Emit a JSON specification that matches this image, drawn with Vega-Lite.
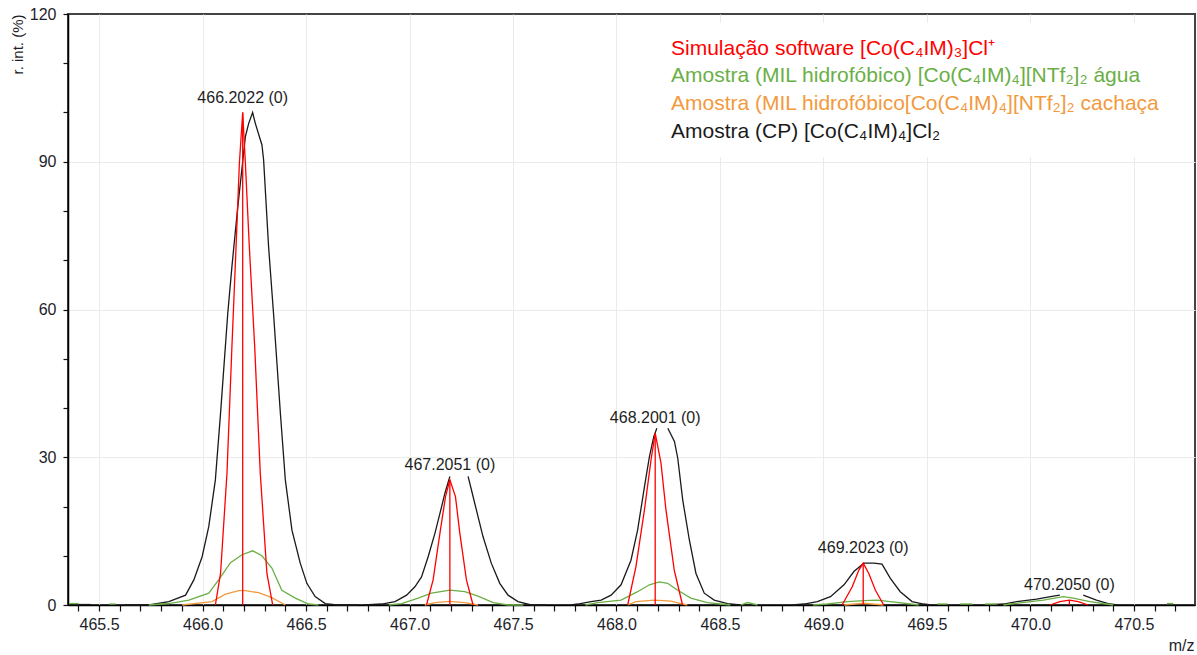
{
 "$schema": "https://vega.github.io/schema/vega-lite/v6.json",
 "width": 1127,
 "height": 591,
 "autosize": {"type": "none"},
 "padding": {"left": 68, "top": 14, "right": 2, "bottom": 50},
 "background": "white",
 "config": {"font": "Liberation Sans", "view": {"stroke": "#444444", "strokeWidth": 2}},
 "datasets": {
  "curves": [
   {"s":"cp","g":"cp0","x":465.36,"y":0.1},{"s":"cp","g":"cp0","x":465.46,"y":0.1},
   {"s":"cp","g":"cp1","x":465.62,"y":0},{"s":"cp","g":"cp1","x":465.741,"y":0},{"s":"cp","g":"cp1","x":465.837,"y":0.7},{"s":"cp","g":"cp1","x":465.918,"y":2},{"s":"cp","g":"cp1","x":465.958,"y":5.1},{"s":"cp","g":"cp1","x":465.998,"y":9.8},{"s":"cp","g":"cp1","x":466.03,"y":15.9},{"s":"cp","g":"cp1","x":466.062,"y":25.4},{"s":"cp","g":"cp1","x":466.087,"y":38.9},{"s":"cp","g":"cp1","x":466.122,"y":59.3},{"s":"cp","g":"cp1","x":466.142,"y":68.7},{"s":"cp","g":"cp1","x":466.167,"y":79.5},{"s":"cp","g":"cp1","x":466.207,"y":95.1},{"s":"cp","g":"cp1","x":466.223,"y":97.8},{"s":"cp","g":"cp1","x":466.242,"y":100},{"s":"cp","g":"cp1","x":466.255,"y":97.8},{"s":"cp","g":"cp1","x":466.287,"y":93.4},{"s":"cp","g":"cp1","x":466.295,"y":90.4},{"s":"cp","g":"cp1","x":466.319,"y":72.8},{"s":"cp","g":"cp1","x":466.343,"y":59.2},{"s":"cp","g":"cp1","x":466.376,"y":39},{"s":"cp","g":"cp1","x":466.4,"y":25.4},{"s":"cp","g":"cp1","x":466.432,"y":15.2},{"s":"cp","g":"cp1","x":466.472,"y":8.5},{"s":"cp","g":"cp1","x":466.504,"y":4.4},{"s":"cp","g":"cp1","x":466.544,"y":1.7},{"s":"cp","g":"cp1","x":466.593,"y":0.3},{"s":"cp","g":"cp1","x":466.65,"y":0},{"s":"cp","g":"cp1","x":466.75,"y":0},
   {"s":"cp","g":"cp2a","x":466.78,"y":0},{"s":"cp","g":"cp2a","x":466.865,"y":0.2},{"s":"cp","g":"cp2a","x":466.93,"y":0.7},{"s":"cp","g":"cp2a","x":466.986,"y":2},{"s":"cp","g":"cp2a","x":467.026,"y":3.7},{"s":"cp","g":"cp2a","x":467.058,"y":5.7},{"s":"cp","g":"cp2a","x":467.09,"y":9.8},{"s":"cp","g":"cp2a","x":467.123,"y":14.6},{"s":"cp","g":"cp2a","x":467.147,"y":18.6},{"s":"cp","g":"cp2a","x":467.171,"y":22.7},{"s":"cp","g":"cp2a","x":467.195,"y":26.1},
   {"s":"cp","g":"cp2b","x":467.283,"y":26.1},{"s":"cp","g":"cp2b","x":467.299,"y":23.4},{"s":"cp","g":"cp2b","x":467.323,"y":19.3},{"s":"cp","g":"cp2b","x":467.355,"y":13.9},{"s":"cp","g":"cp2b","x":467.395,"y":8.5},{"s":"cp","g":"cp2b","x":467.436,"y":4.4},{"s":"cp","g":"cp2b","x":467.476,"y":2},{"s":"cp","g":"cp2b","x":467.524,"y":0.7},{"s":"cp","g":"cp2b","x":467.588,"y":0},{"s":"cp","g":"cp2b","x":467.66,"y":0},
   {"s":"cp","g":"cp3a","x":467.78,"y":0},{"s":"cp","g":"cp3a","x":467.813,"y":0.2},{"s":"cp","g":"cp3a","x":467.877,"y":0.7},{"s":"cp","g":"cp3a","x":467.926,"y":1},{"s":"cp","g":"cp3a","x":467.974,"y":2},{"s":"cp","g":"cp3a","x":468.022,"y":4.1},{"s":"cp","g":"cp3a","x":468.07,"y":9.1},{"s":"cp","g":"cp3a","x":468.102,"y":15.2},{"s":"cp","g":"cp3a","x":468.135,"y":24},{"s":"cp","g":"cp3a","x":468.159,"y":30.1},{"s":"cp","g":"cp3a","x":468.18,"y":34.2},{"s":"cp","g":"cp3a","x":468.195,"y":35.9},
   {"s":"cp","g":"cp3b","x":468.248,"y":35.9},{"s":"cp","g":"cp3b","x":468.28,"y":33.2},{"s":"cp","g":"cp3b","x":468.296,"y":29.8},{"s":"cp","g":"cp3b","x":468.32,"y":21.3},{"s":"cp","g":"cp3b","x":468.352,"y":13.2},{"s":"cp","g":"cp3b","x":468.384,"y":6.4},{"s":"cp","g":"cp3b","x":468.424,"y":2.4},{"s":"cp","g":"cp3b","x":468.472,"y":1},{"s":"cp","g":"cp3b","x":468.536,"y":0.3},{"s":"cp","g":"cp3b","x":468.6,"y":0},{"s":"cp","g":"cp3b","x":468.66,"y":0},
   {"s":"cp","g":"cp4","x":468.85,"y":0},{"s":"cp","g":"cp4","x":468.906,"y":0.2},{"s":"cp","g":"cp4","x":468.97,"y":0.7},{"s":"cp","g":"cp4","x":469.034,"y":1.7},{"s":"cp","g":"cp4","x":469.099,"y":4.1},{"s":"cp","g":"cp4","x":469.147,"y":6.8},{"s":"cp","g":"cp4","x":469.195,"y":8.5},{"s":"cp","g":"cp4","x":469.243,"y":8.5},{"s":"cp","g":"cp4","x":469.283,"y":8.3},{"s":"cp","g":"cp4","x":469.323,"y":5.4},{"s":"cp","g":"cp4","x":469.371,"y":2.7},{"s":"cp","g":"cp4","x":469.428,"y":0.7},{"s":"cp","g":"cp4","x":469.484,"y":0.2},{"s":"cp","g":"cp4","x":469.52,"y":0},
   {"s":"cp","g":"cp5a","x":469.8,"y":0},{"s":"cp","g":"cp5a","x":469.87,"y":0.2},{"s":"cp","g":"cp5a","x":469.934,"y":0.7},{"s":"cp","g":"cp5a","x":470.03,"y":1.2},{"s":"cp","g":"cp5a","x":470.111,"y":1.8},{"s":"cp","g":"cp5a","x":470.142,"y":2},
   {"s":"cp","g":"cp5b","x":470.255,"y":2},{"s":"cp","g":"cp5b","x":470.319,"y":1},{"s":"cp","g":"cp5b","x":470.384,"y":0.2},{"s":"cp","g":"cp5b","x":470.42,"y":0},
   {"s":"agua","g":"ag0","x":465.355,"y":0.3},{"s":"agua","g":"ag0","x":465.4,"y":0.3},
   {"s":"agua","g":"ag0b","x":465.55,"y":0.2},{"s":"agua","g":"ag0b","x":465.58,"y":0.2},
   {"s":"agua","g":"ag1","x":465.741,"y":0},{"s":"agua","g":"ag1","x":465.837,"y":0.3},{"s":"agua","g":"ag1","x":465.934,"y":1},{"s":"agua","g":"ag1","x":466.03,"y":2.4},{"s":"agua","g":"ag1","x":466.078,"y":5.1},{"s":"agua","g":"ag1","x":466.135,"y":8.6},{"s":"agua","g":"ag1","x":466.191,"y":10.2},{"s":"agua","g":"ag1","x":466.242,"y":11},{"s":"agua","g":"ag1","x":466.287,"y":10},{"s":"agua","g":"ag1","x":466.335,"y":7.5},{"s":"agua","g":"ag1","x":466.383,"y":3},{"s":"agua","g":"ag1","x":466.448,"y":1.4},{"s":"agua","g":"ag1","x":466.512,"y":0.2},{"s":"agua","g":"ag1","x":466.56,"y":0},
   {"s":"agua","g":"ag2","x":466.9,"y":0},{"s":"agua","g":"ag2","x":466.962,"y":0.3},{"s":"agua","g":"ag2","x":467.042,"y":1.4},{"s":"agua","g":"ag2","x":467.106,"y":2.4},{"s":"agua","g":"ag2","x":467.195,"y":3},{"s":"agua","g":"ag2","x":467.267,"y":2.7},{"s":"agua","g":"ag2","x":467.331,"y":1.8},{"s":"agua","g":"ag2","x":467.404,"y":0.5},{"s":"agua","g":"ag2","x":467.476,"y":0},{"s":"agua","g":"ag2","x":467.55,"y":0},
   {"s":"agua","g":"ag3","x":467.85,"y":0},{"s":"agua","g":"ag3","x":467.91,"y":0.5},{"s":"agua","g":"ag3","x":468.022,"y":1},{"s":"agua","g":"ag3","x":468.102,"y":2.7},{"s":"agua","g":"ag3","x":468.159,"y":4.1},{"s":"agua","g":"ag3","x":468.207,"y":4.7},{"s":"agua","g":"ag3","x":468.247,"y":4.4},{"s":"agua","g":"ag3","x":468.296,"y":3},{"s":"agua","g":"ag3","x":468.359,"y":1.4},{"s":"agua","g":"ag3","x":468.439,"y":0.5},{"s":"agua","g":"ag3","x":468.504,"y":0.2},{"s":"agua","g":"ag3","x":468.55,"y":0},
   {"s":"agua","g":"ag3b","x":468.6,"y":0},{"s":"agua","g":"ag3b","x":468.633,"y":0.5},{"s":"agua","g":"ag3b","x":468.681,"y":0},
   {"s":"agua","g":"ag4","x":468.95,"y":0},{"s":"agua","g":"ag4","x":469.018,"y":0.2},{"s":"agua","g":"ag4","x":469.114,"y":0.7},{"s":"agua","g":"ag4","x":469.195,"y":0.9},{"s":"agua","g":"ag4","x":469.259,"y":1},{"s":"agua","g":"ag4","x":469.323,"y":0.7},{"s":"agua","g":"ag4","x":469.42,"y":0.2},{"s":"agua","g":"ag4","x":469.46,"y":0},
   {"s":"agua","g":"ag4b","x":469.55,"y":0.2},{"s":"agua","g":"ag4b","x":469.6,"y":0.2},
   {"s":"agua","g":"ag4c","x":469.66,"y":0.2},{"s":"agua","g":"ag4c","x":469.72,"y":0.2},
   {"s":"agua","g":"ag4d","x":469.78,"y":0.2},{"s":"agua","g":"ag4d","x":469.84,"y":0.2},
   {"s":"agua","g":"ag5","x":469.87,"y":0},{"s":"agua","g":"ag5","x":469.902,"y":0.2},{"s":"agua","g":"ag5","x":470.063,"y":1},{"s":"agua","g":"ag5","x":470.159,"y":1.7},{"s":"agua","g":"ag5","x":470.207,"y":1.4},{"s":"agua","g":"ag5","x":470.287,"y":0.7},{"s":"agua","g":"ag5","x":470.367,"y":0.2},{"s":"agua","g":"ag5","x":470.4,"y":0},
   {"s":"agua","g":"ag6","x":470.66,"y":0.3},{"s":"agua","g":"ag6","x":470.69,"y":0.3},
   {"s":"cach","g":"ca1","x":465.901,"y":0},{"s":"cach","g":"ca1","x":466.046,"y":0.7},{"s":"cach","g":"ca1","x":466.111,"y":2.2},{"s":"cach","g":"ca1","x":466.175,"y":2.9},{"s":"cach","g":"ca1","x":466.207,"y":2.9},{"s":"cach","g":"ca1","x":466.271,"y":2.5},{"s":"cach","g":"ca1","x":466.335,"y":1.5},{"s":"cach","g":"ca1","x":466.4,"y":0},
   {"s":"cach","g":"ca2","x":467.074,"y":0},{"s":"cach","g":"ca2","x":467.123,"y":0.5},{"s":"cach","g":"ca2","x":467.195,"y":0.75},{"s":"cach","g":"ca2","x":467.267,"y":0.5},{"s":"cach","g":"ca2","x":467.331,"y":0},
   {"s":"cach","g":"ca3","x":468.054,"y":0},{"s":"cach","g":"ca3","x":468.094,"y":0.7},{"s":"cach","g":"ca3","x":468.183,"y":1},{"s":"cach","g":"ca3","x":468.263,"y":0.8},{"s":"cach","g":"ca3","x":468.311,"y":0.3},{"s":"cach","g":"ca3","x":468.342,"y":0},
   {"s":"cach","g":"ca4","x":469.1,"y":0},{"s":"cach","g":"ca4","x":469.192,"y":0.35},{"s":"cach","g":"ca4","x":469.29,"y":0},
   {"s":"sim","g":"si1","x":466.062,"y":0},{"s":"sim","g":"si1","x":466.087,"y":6.4},{"s":"sim","g":"si1","x":466.118,"y":26.7},{"s":"sim","g":"si1","x":466.142,"y":52.5},{"s":"sim","g":"si1","x":466.162,"y":72.8},{"s":"sim","g":"si1","x":466.178,"y":89.7},{"s":"sim","g":"si1","x":466.194,"y":100},{"s":"sim","g":"si1","x":466.207,"y":89.7},{"s":"sim","g":"si1","x":466.226,"y":72.8},{"s":"sim","g":"si1","x":466.252,"y":52.5},{"s":"sim","g":"si1","x":466.279,"y":26.7},{"s":"sim","g":"si1","x":466.311,"y":6.4},{"s":"sim","g":"si1","x":466.339,"y":0},
   {"s":"sim","g":"si2","x":467.082,"y":0},{"s":"sim","g":"si2","x":467.114,"y":5.1},{"s":"sim","g":"si2","x":467.147,"y":14.6},{"s":"sim","g":"si2","x":467.174,"y":22},{"s":"sim","g":"si2","x":467.195,"y":25.4},{"s":"sim","g":"si2","x":467.222,"y":22},{"s":"sim","g":"si2","x":467.243,"y":14.6},{"s":"sim","g":"si2","x":467.275,"y":5.1},{"s":"sim","g":"si2","x":467.307,"y":0},
   {"s":"sim","g":"si3","x":468.054,"y":0},{"s":"sim","g":"si3","x":468.094,"y":7.8},{"s":"sim","g":"si3","x":468.135,"y":19.3},{"s":"sim","g":"si3","x":468.167,"y":29.5},{"s":"sim","g":"si3","x":468.187,"y":34.9},{"s":"sim","g":"si3","x":468.215,"y":28.8},{"s":"sim","g":"si3","x":468.239,"y":19.3},{"s":"sim","g":"si3","x":468.279,"y":7.1},{"s":"sim","g":"si3","x":468.319,"y":0},
   {"s":"sim","g":"si4","x":469.09,"y":0},{"s":"sim","g":"si4","x":469.139,"y":3.7},{"s":"sim","g":"si4","x":469.171,"y":7.1},{"s":"sim","g":"si4","x":469.192,"y":8.5},{"s":"sim","g":"si4","x":469.219,"y":6.4},{"s":"sim","g":"si4","x":469.251,"y":3},{"s":"sim","g":"si4","x":469.291,"y":0},
   {"s":"sim","g":"si5","x":470.094,"y":0},{"s":"sim","g":"si5","x":470.142,"y":0.7},{"s":"sim","g":"si5","x":470.188,"y":1},{"s":"sim","g":"si5","x":470.231,"y":0.7},{"s":"sim","g":"si5","x":470.279,"y":0}
  ],
  "sticks": [
   {"x":466.194,"y":100,"label":"466.2022 (0)"},
   {"x":467.195,"y":25.4,"label":"467.2051 (0)"},
   {"x":468.187,"y":34.9,"label":"468.2001 (0)"},
   {"x":469.192,"y":8.5,"label":"469.2023 (0)"},
   {"x":470.188,"y":1,"label":"470.2050 (0)"}
  ]
 },
 "encoding": {
  "x": {"field": "x", "type": "quantitative",
   "scale": {"domain": [465.35, 470.795], "nice": false, "zero": false},
   "axis": {
    "values": [465.4,465.5,465.6,465.7,465.8,465.9,466.0,466.1,466.2,466.3,466.4,466.5,466.6,466.7,466.8,466.9,467.0,467.1,467.2,467.3,467.4,467.5,467.6,467.7,467.8,467.9,468.0,468.1,468.2,468.3,468.4,468.5,468.6,468.7,468.8,468.9,469.0,469.1,469.2,469.3,469.4,469.5,469.6,469.7,469.8,469.9,470.0,470.1,470.2,470.3,470.4,470.5,470.6,470.7],
    "format": ".1f",
    "labelExpr": "abs(datum.value*2 - round(datum.value*2)) < 0.001 ? datum.label : ''",
    "grid": true, "gridColor": "#ebebeb", "gridWidth": 1,
    "gridOpacity": {"condition": {"test": "abs(datum.value*2 - round(datum.value*2)) < 0.001", "value": 1}, "value": 0},
    "tickSize": 6,
    "tickColor": "#111111", "tickWidth": 1.2,
    "domainColor": "#000000", "domainWidth": 1.5,
    "labelFontSize": 16, "labelColor": "#1e1e2a", "labelPadding": 5,
    "labelFlush": false, "labelOverlap": false,
    "title": "m/z", "titleFontSize": 16, "titleFontWeight": "normal", "titleColor": "#1e1e2a",
    "titleAnchor": "end", "titleAlign": "right", "titleBaseline": "middle", "titleX": 1126, "titleY": 40
   }
  },
  "y": {"field": "y", "type": "quantitative",
   "scale": {"domain": [0, 120], "nice": false},
   "axis": {
    "values": [0,10,20,30,40,50,60,70,80,90,100,110,120],
    "labelExpr": "datum.value % 30 === 0 ? datum.label : ''",
    "grid": true, "gridColor": "#ebebeb", "gridWidth": 1,
    "gridOpacity": {"condition": {"test": "datum.value % 30 === 0 && datum.value > 0 && datum.value < 120", "value": 1}, "value": 0},
    "tickSize": 5, "tickColor": "#111111", "tickWidth": 1.2,
    "domainColor": "#000000", "domainWidth": 1.5,
    "labelFontSize": 16, "labelColor": "#1e1e2a", "labelPadding": 7,
    "labelOverlap": false,
    "title": "r. int. (%)", "titleFontSize": 15, "titleFontWeight": "normal", "titleColor": "#1e1e2a",
    "titleAnchor": "end", "titleAlign": "right", "titleBaseline": "middle", "titleX": -51, "titleY": 0
   }
  }
 },
 "layer": [
  {
   "data": {"name": "curves"},
   "mark": {"type": "line", "strokeWidth": 1.3},
   "encoding": {
    "color": {"field": "s", "type": "nominal",
     "scale": {"domain": ["sim", "agua", "cach", "cp"], "range": ["#ff0000", "#6aaf46", "#f29a3d", "#1a1a1a"]},
     "legend": {
      "orient": "none", "legendX": 567, "legendY": 9, "title": null,
      "fillColor": "white", "padding": 15,
      "symbolSize": 0, "symbolStrokeWidth": 0, "symbolOpacity": 0, "labelOffset": 0,
      "labelFontSize": 21, "labelFont": "Liberation Sans", "rowPadding": 5.7, "labelLimit": 0,
      "labelExpr": "{'sim': 'Simulação software [Co(C₄IM)₃]Cl⁺', 'agua': 'Amostra (MIL hidrofóbico) [Co(C₄IM)₄][NTf₂]₂ água', 'cach': 'Amostra (MIL hidrofóbico[Co(C₄IM)₄][NTf₂]₂ cachaça', 'cp': 'Amostra (CP) [Co(C₄IM)₄]Cl₂'}[datum.value]",
      "encode": {"labels": {"update": {"fill": {"scale": "color", "field": "value"}}}}
     }
    },
    "detail": {"field": "g"}
   }
  },
  {
   "data": {"name": "sticks"},
   "mark": {"type": "rule", "color": "#ff0000", "strokeWidth": 1.3},
   "encoding": {
    "y2": {"datum": 0}
   }
  },
  {
   "data": {"name": "sticks"},
   "mark": {"type": "text", "dy": -15, "fontSize": 16, "color": "#1e1e1e", "baseline": "middle", "align": "center"},
   "encoding": {
    "text": {"field": "label"}
   }
  }
 ]
}
